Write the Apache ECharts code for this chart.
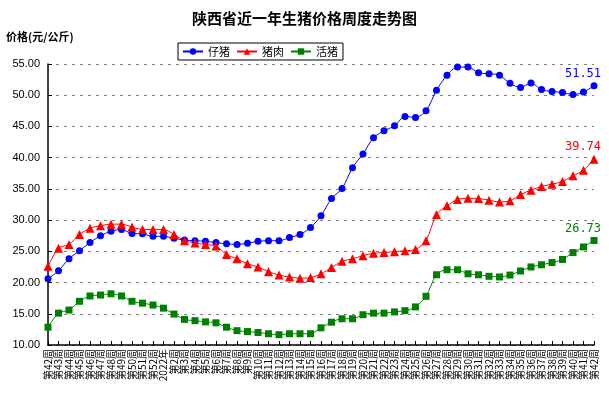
<!DOCTYPE html>
<html>
<head>
<meta charset="utf-8">
<script src="https://cdn.jsdelivr.net/npm/echarts@6/dist/echarts.min.js"></script>
<style>
  html, body { margin: 0; padding: 0; background: #fff; }
  #chart { width: 609px; height: 399px; }
</style>
</head>
<body>
<div id="chart"></div>
<script>
// 周次
const weeks = ['第42周', '第43周', '第44周', '第45周', '第46周', '第47周', '第48周', '第49周', '第50周', '第51周', '第52周', '2022年',
  '第2周', '第3周', '第4周', '第5周', '第6周', '第7周', '第8周', '第9周', '第10周', '第11周', '第12周', '第13周', '第14周',
  '第15周', '第16周', '第17周', '第18周', '第19周', '第20周', '第21周', '第22周', '第23周', '第24周', '第25周', '第26周',
  '第27周', '第28周', '第29周', '第30周', '第31周', '第32周', '第33周', '第34周', '第35周', '第36周', '第37周', '第38周',
  '第39周', '第40周', '第41周', '第42周']

const piglet = [20.6, 21.9, 23.8, 25.1, 26.4, 27.5, 28.2, 28.5, 27.85, 27.8, 27.4, 27.4, 27.1, 26.8, 26.7, 26.6, 26.4, 26.2,
  26.1, 26.3, 26.6, 26.7, 26.7, 27.2, 27.7, 28.8, 30.7, 33.45, 35.05, 38.4, 40.6, 43.2, 44.3, 45.1, 46.6, 46.45, 47.5, 50.8,
  53.2, 54.5, 54.5, 53.6, 53.45, 53.2, 51.9, 51.25, 51.95, 50.9, 50.6, 50.45, 50.1, 50.5, 51.51]

const pork = [22.6, 25.5, 26.1, 27.7, 28.7, 29.1, 29.35, 29.35, 28.9, 28.5, 28.5, 28.5, 27.7, 26.7, 26.35, 26.1, 25.85, 24.5,
  23.8, 23.0, 22.5, 21.75, 21.2, 20.9, 20.7, 20.8, 21.4, 22.4, 23.4, 23.8, 24.3, 24.7, 24.8, 24.95, 25.1, 25.3, 26.7, 30.9,
  32.3, 33.3, 33.5, 33.45, 33.2, 32.9, 33.1, 34.1, 34.8, 35.4, 35.75, 36.2, 37.1, 38.0, 39.74]

const hog = [12.85, 15.1, 15.6, 17.0, 17.85, 18.0, 18.2, 17.85, 17.0, 16.7, 16.4, 15.9, 14.95, 14.1, 13.9, 13.7, 13.55, 12.85,
  12.3, 12.15, 12.0, 11.8, 11.65, 11.8, 11.8, 11.8, 12.75, 13.65, 14.2, 14.2, 14.85, 15.1, 15.1, 15.3, 15.5, 16.1, 17.8, 21.25,
  22.05, 22.05, 21.4, 21.25, 21.0, 20.9, 21.2, 21.85, 22.5, 22.85, 23.2, 23.7, 24.8, 25.7, 26.73]

const cjk = '"Noto Sans CJK SC", sans-serif'

// 最后一个点显示数值
function withLastLabel (arr, color) {
  return arr.map((v, i) => {
    if (i !== arr.length - 1) return v
    return {
      value: v,
      label: {
        show: true,
        position: 'top',
        distance: 2,
        offset: [-11, 0],
        color: color,
        fontSize: 12,
        fontFamily: '"DejaVu Sans Mono", monospace',
        formatter: p => p.value.toFixed(2)
      }
    }
  })
}

function makeSeries (name, data, color, symbol, size) {
  return {
    name: name,
    type: 'line',
    data: withLastLabel(data, color),
    symbol: symbol,
    symbolSize: size,
    smooth: 0.3,
    itemStyle: { color: color },
    lineStyle: { color: color, width: 1 },
    emphasis: { disabled: true },
    animation: false
  }
}

const chart = echarts.init(document.getElementById('chart'))
chart.setOption({
  animation: false,
  title: {
    text: '陕西省近一年生猪价格周度走势图',
    left: 'center',
    top: 6,
    textStyle: { fontFamily: cjk, fontSize: 15, fontWeight: 'bold', color: '#000' }
  },
  graphic: [{
    type: 'text',
    left: 6,
    top: 31,
    style: { text: '价格(元/公斤)', fontFamily: cjk, fontSize: 11, fontWeight: 'bold', fill: '#000' }
  }],
  legend: {
    left: 178,
    top: 43,
    itemWidth: 20,
    itemHeight: 8,
    itemGap: 6,
    padding: [3, 5, 3, 4],
    borderColor: '#000',
    borderWidth: 1,
    backgroundColor: '#fff',
    textStyle: { fontFamily: cjk, fontSize: 11, color: '#000' },
    data: ['仔猪', '猪肉', '活猪']
  },
  grid: {
    left: 48,
    right: 15,
    top: 64,
    bottom: 54,
    containLabel: false
  },
  xAxis: {
    type: 'category',
    data: weeks,
    boundaryGap: false,
    axisLine: { lineStyle: { color: '#000', width: 1.5 } },
    axisTick: { inside: true, length: 4, lineStyle: { color: '#000' }, interval: 0 },
    axisLabel: {
      interval: 0,
      rotate: 90,
      fontFamily: cjk,
      fontSize: 10,
      color: '#000',
      margin: 4
    },
    splitLine: { show: false }
  },
  yAxis: {
    type: 'value',
    min: 10,
    max: 55,
    interval: 5,
    axisLine: { show: true, lineStyle: { color: '#000', width: 1.5 } },
    axisTick: { show: true, inside: true, length: 4, lineStyle: { color: '#000' } },
    axisLabel: {
      color: '#000',
      fontFamily: '"Liberation Sans", Arial, sans-serif',
      fontSize: 11,
      margin: 8,
      formatter: v => v.toFixed(2)
    },
    splitLine: { show: true, lineStyle: { color: '#808080', type: [3, 5], width: 1.2 } }
  },
  series: [
    makeSeries('仔猪', piglet, '#0000ff', 'circle', 7),
    makeSeries('猪肉', pork, '#ff0000', 'triangle', 9),
    makeSeries('活猪', hog, '#008000', 'rect', 7)
  ]
})
</script>
</body>
</html>
